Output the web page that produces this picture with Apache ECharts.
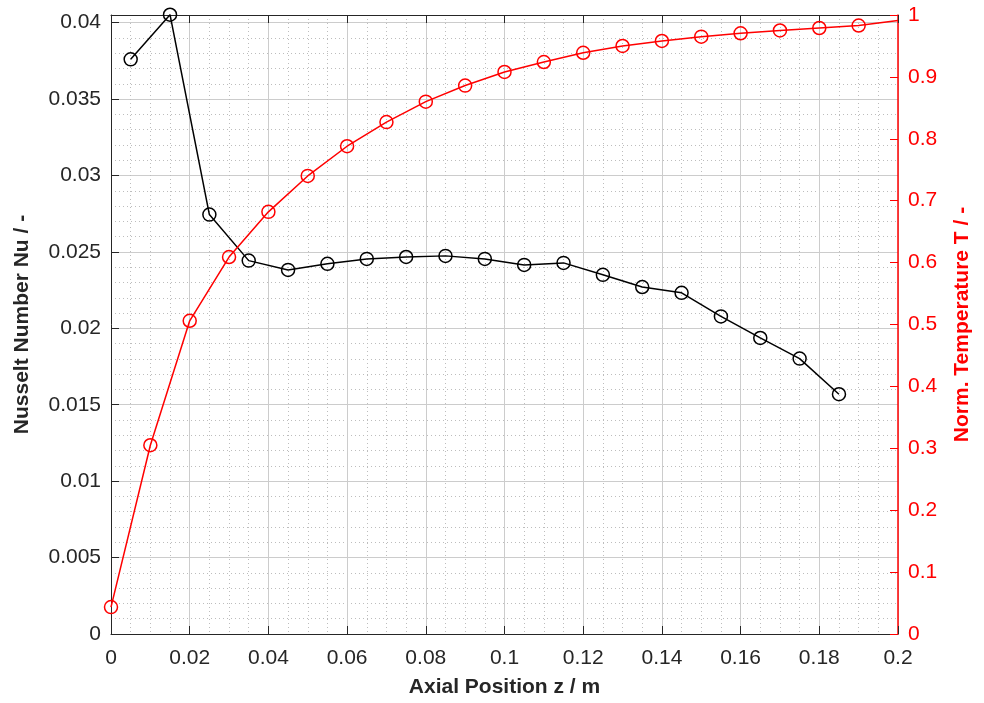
<!DOCTYPE html>
<html>
<head>
<meta charset="utf-8">
<script src="https://cdn.jsdelivr.net/npm/echarts@6/dist/echarts.min.js"></script>
<style>
html,body{margin:0;padding:0;background:#fff;}
#chart{width:984px;height:703px;}
</style>
</head>
<body>
<div id="chart"></div>
<script>
// Nusselt number (left axis)
var nuZ = [0.005, 0.015, 0.025, 0.035, 0.045, 0.055, 0.065, 0.075, 0.085, 0.095, 0.105, 0.115, 0.125, 0.135, 0.145, 0.155, 0.165, 0.175, 0.185];
var nuVal = [0.03760, 0.04052, 0.02744, 0.02443, 0.02382, 0.02422, 0.02454, 0.02467, 0.02474, 0.02454, 0.02415, 0.02428, 0.02350, 0.02270, 0.02232, 0.02078, 0.01937, 0.01802, 0.01569];
// Normalised temperature (right axis)
var tZ = [0, 0.01, 0.02, 0.03, 0.04, 0.05, 0.06, 0.07, 0.08, 0.09, 0.10, 0.11, 0.12, 0.13, 0.14, 0.15, 0.16, 0.17, 0.18, 0.19, 0.20];
var tVal = [0.0435, 0.305, 0.506, 0.609, 0.682, 0.740, 0.788, 0.827, 0.860, 0.886, 0.908, 0.924, 0.939, 0.950, 0.958, 0.965, 0.9705, 0.975, 0.979, 0.983, 0.991];
var tMarked = [true, true, true, true, true, true, true, true, true, true, true, true, true, true, true, true, true, true, true, true, false];

var xTitle = 'Axial Position z / m';
var yLeftTitle = 'Nusselt Number Nu / -';
var yRightTitle = 'Norm. Temperature T / -';

var FONT = "'Liberation Sans', Arial, sans-serif";
var DARK = '#262626';
var RED = '#ff0000';

var nuData = nuZ.map(function (z, i) { return [z, nuVal[i]]; });
var tData = tZ.map(function (z, i) {
  var d = { value: [z, tVal[i]] };
  if (!tMarked[i]) d.symbol = 'none';
  return d;
});

var chart = echarts.init(document.getElementById('chart'), null, { renderer: 'canvas' });
chart.setOption({
  animation: false,
  backgroundColor: '#fff',
  grid: { left: 111, right: 86, top: 15, bottom: 67, containLabel: false },
  xAxis: [{
    type: 'value', min: 0, max: 0.2, interval: 0.02,
    name: xTitle, nameLocation: 'middle', nameGap: 43,
    nameTextStyle: { fontFamily: FONT, fontSize: 21, fontWeight: 'bold', color: DARK },
    axisLine: { show: true, onZero: false, lineStyle: { color: DARK, width: 1 } },
    axisTick: { show: true, inside: true, length: 8, lineStyle: { color: DARK } },
    axisLabel: { fontFamily: FONT, fontSize: 21, color: DARK, margin: 14 },
    splitLine: { show: true, lineStyle: { color: '#cccccc', width: 1 } },
    minorTick: { show: false, splitNumber: 4 },
    minorSplitLine: { show: true, lineStyle: { color: '#bdbdbd', type: [1, 3], width: 1 } }
  }, {
    type: 'value', min: 0, max: 0.2, interval: 0.02, position: 'top',
    axisLine: { show: true, onZero: false, lineStyle: { color: DARK, width: 1 } },
    axisTick: { show: true, inside: true, length: 8, lineStyle: { color: DARK } },
    axisLabel: { show: false },
    splitLine: { show: false }
  }],
  yAxis: [{
    type: 'value', min: 0, max: 0.0405, interval: 0.005, position: 'left',
    name: yLeftTitle, nameLocation: 'middle', nameGap: 78, nameRotate: 90,
    nameTextStyle: { fontFamily: FONT, fontSize: 21, fontWeight: 'bold', color: DARK },
    axisLine: { show: true, onZero: false, lineStyle: { color: DARK, width: 1 } },
    axisTick: { show: true, inside: true, length: 8, lineStyle: { color: DARK } },
    axisLabel: { fontFamily: FONT, fontSize: 21, color: DARK, margin: 10, showMaxLabel: false },
    splitLine: { show: true, lineStyle: { color: '#cccccc', width: 1 } },
    minorTick: { show: false, splitNumber: 5 },
    minorSplitLine: { show: true, lineStyle: { color: '#bdbdbd', type: [1, 3], width: 1 } }
  }, {
    type: 'value', min: 0, max: 1, interval: 0.1, position: 'right',
    name: yRightTitle, nameLocation: 'middle', nameGap: 54, nameRotate: 90,
    nameTextStyle: { fontFamily: FONT, fontSize: 21, fontWeight: 'bold', color: RED },
    axisLine: { show: true, onZero: false, lineStyle: { color: RED, width: 1.5 } },
    axisTick: { show: true, inside: true, length: 8, lineStyle: { color: RED } },
    axisLabel: { fontFamily: FONT, fontSize: 21, color: RED, margin: 10 },
    splitLine: { show: false }
  }],
  series: [{
    name: 'Nu', type: 'line', xAxisIndex: 0, yAxisIndex: 0,
    data: nuData, clip: false,
    symbol: 'circle', symbolSize: 13, showAllSymbol: true,
    lineStyle: { color: '#000', width: 1.5 },
    itemStyle: { color: 'rgba(0,0,0,0)', borderColor: '#000', borderWidth: 1.5 },
    z: 3
  }, {
    name: 'T', type: 'line', xAxisIndex: 0, yAxisIndex: 1,
    data: tData, clip: false,
    symbol: 'circle', symbolSize: 13, showAllSymbol: true,
    lineStyle: { color: RED, width: 1.5 },
    itemStyle: { color: 'rgba(0,0,0,0)', borderColor: RED, borderWidth: 1.5 },
    z: 4
  }]
});
</script>
</body>
</html>
